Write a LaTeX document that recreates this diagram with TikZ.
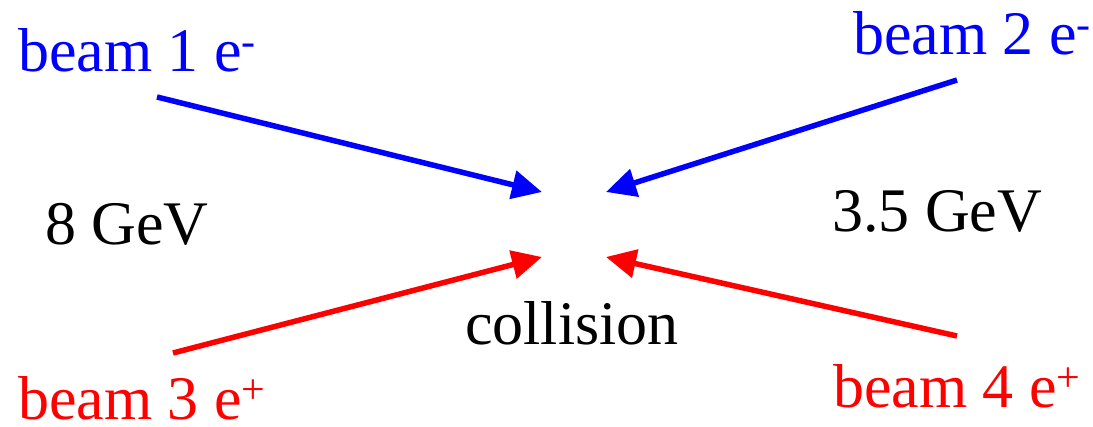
\documentclass[tikz,border=0pt]{standalone}
\usepackage{fontspec}
\setmainfont{Liberation Serif}
\usetikzlibrary{arrows.meta}
\newcommand{\supmark}[1]{{\fontsize{42}{44}\selectfont\raisebox{16pt}{#1}}}
\begin{document}
\begin{tikzpicture}[x=1pt,y=-1pt,
  lbl/.style={anchor=base west,inner sep=0pt,font=\fontsize{62}{70}\selectfont},
  beam/.style={line width=5.5pt,-{Triangle[length=30pt,width=28pt]}}]
\useasboundingbox (0,0) rectangle (1093,427);
\node[lbl,text=blue] (b1) at (18,72) {beam 1 e\supmark{-}};
\node[lbl,text=blue] (b2) at (853,55) {beam 2 e\supmark{-}};
\node[lbl,text=red] (b3) at (18,420) {beam 3 e\supmark{+}};
\node[lbl,text=red] (b4) at (833,408) {beam 4 e\supmark{+}};
\node[lbl] (e8) at (45,245) {8 GeV};
\node[lbl] (e35) at (832,232) {3.5 GeV};
\node[lbl] (col) at (465,345) {collision};
\coordinate (s1) at (157,97);
\coordinate (t1) at (542,192);
\coordinate (s2) at (957,80);
\coordinate (t2) at (606,192);
\coordinate (s3) at (173,353);
\coordinate (t3) at (542,257);
\coordinate (s4) at (957,336);
\coordinate (t4) at (606,257);
\draw[beam,blue] (s1) -- (t1);
\draw[beam,blue] (s2) -- (t2);
\draw[beam,red] (s3) -- (t3);
\draw[beam,red] (s4) -- (t4);
\end{tikzpicture}
\end{document}
